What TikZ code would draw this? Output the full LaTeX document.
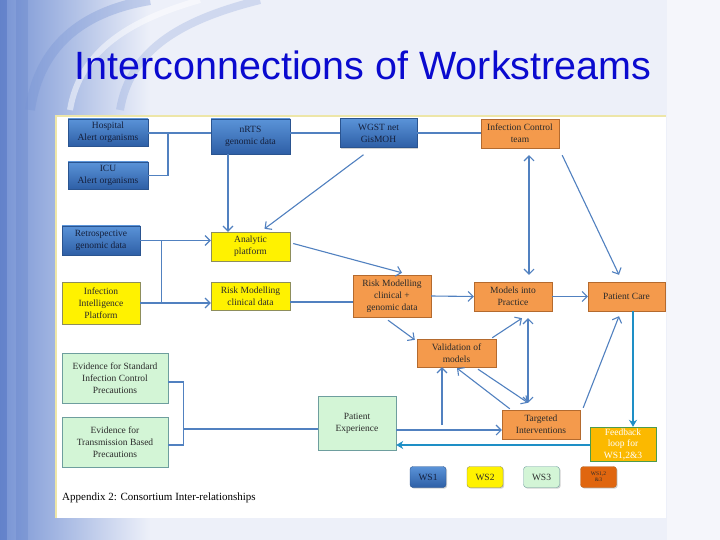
\documentclass[tikz,border=0pt]{standalone}
\usepackage{fontspec}
\setmainfont{Liberation Serif}
\newfontfamily\titlefont{Liberation Sans}
\usetikzlibrary{arrows.meta,shadows,calc}
\definecolor{bgc}{HTML}{EDF0F9}
\definecolor{decoA}{HTML}{7693D4}
\definecolor{decoB}{HTML}{4D6FC0}
\definecolor{titleblue}{HTML}{0A0ACF}
\definecolor{blueA}{HTML}{5A93D8}
\definecolor{blueB}{HTML}{2E5FA6}
\definecolor{blueD}{HTML}{2A5490}
\definecolor{bluetext}{HTML}{15203C}
\definecolor{yelB}{HTML}{8E8E5C}
\definecolor{oraC}{HTML}{F49A4C}
\definecolor{oraB}{HTML}{B46A2E}
\definecolor{grnC}{HTML}{D3F5D6}
\definecolor{grnB}{HTML}{6E9E9E}
\definecolor{fbC}{HTML}{FBB900}
\definecolor{fbB}{HTML}{4D9B4D}
\definecolor{ws4}{HTML}{E0660F}
\definecolor{conn}{HTML}{5181C0}
\definecolor{fbline}{HTML}{1E8FC6}
\definecolor{panelB}{HTML}{EDE6A8}
\definecolor{txt}{HTML}{2B2B2B}
\tikzset{
  wh/.style 2 args={minimum width=#1pt, minimum height=#2pt},
  box/.style={draw, align=center, inner sep=1pt, text=txt,
    font=\fontsize{9.5}{12}\selectfont,
    drop shadow={opacity=0.35, shadow xshift=1.2pt, shadow yshift=-1.2pt}},
  bluebox/.style={box, top color=blueA, bottom color=blueB, draw=blueD, text=bluetext},
  yelbox/.style={box, fill=yellow, draw=yelB},
  orabox/.style={box, fill=oraC, draw=oraB},
  grnbox/.style={box, fill=grnC, draw=grnB},
  line/.style={draw=conn, line width=1.1pt},
  arr/.style={line, -{Straight Barb[length=5pt,width=10pt]}},
  darr/.style={line, {Straight Barb[length=5pt,width=10pt]}-{Straight Barb[length=5pt,width=10pt]}},
  fbarr/.style={draw=fbline, line width=2.8pt, -{Stealth[length=7pt,width=8pt]}},
  legbox/.style={draw, rounded corners=3pt, wh={36}{21}, inner sep=0pt,
    font=\fontsize{9.5}{10}\selectfont, text=txt,
    drop shadow={opacity=0.35, shadow xshift=1.2pt, shadow yshift=-1.2pt}}
}
\begin{document}
\begin{tikzpicture}[x=1pt,y=-1pt]
\useasboundingbox (0,0) rectangle (720,540);
% background
\fill[bgc] (0,0) rectangle (720,540);
\shade[left color=decoA, right color=bgc] (0,0) rectangle (150,540);
\fill[decoB, opacity=0.45] (0,0) rectangle (7,540);
\fill[decoB, opacity=0.2] (16,0) rectangle (28,540);
\draw[decoA, opacity=0.35, line width=10pt] (30,110) .. controls (40,40) and (90,10) .. (150,0);
\draw[decoA, opacity=0.25, line width=8pt] (120,110) .. controls (130,50) and (180,20) .. (260,0);
\draw[white, opacity=0.5, line width=6pt] (70,110) .. controls (80,50) and (130,20) .. (200,0);
\fill[white, opacity=0.45] (667,0) rectangle (720,540);
% panel
\fill[white] (55,115) rectangle (666,518);
\draw[panelB, line width=1.5pt] (56,518) -- (56,116) -- (666,116);
% title
\node[font=\titlefont\fontsize{39.5}{39.5}\selectfont, text=titleblue, anchor=base, inner sep=0] (title) at (363,80) {Interconnections of Workstreams};
% nodes
\node[bluebox, wh={80}{27}] (hosp) at (108,132.5) {Hospital\\Alert organisms};
\node[bluebox, wh={80}{27}] (icu) at (108,175.5) {ICU\\Alert organisms};
\node[bluebox, wh={79}{35}] (nrts) at (250.5,136.5) {nRTS\\genomic data};
\node[bluebox, wh={77}{29}] (wgst) at (378.5,133) {WGST net\\GisMOH};
\node[orabox, wh={78}{29}] (ict) at (520,133.5) {Infection Control\\team};
\node[bluebox, wh={78}{29}] (retro) at (101,240.5) {Retrospective\\genomic data};
\node[yelbox, wh={79}{29}] (analytic) at (250.5,246.5) {Analytic\\platform};
\node[yelbox, wh={78}{42}] (iip) at (101,303) {Infection\\Intelligence\\Platform};
\node[yelbox, wh={79}{28}] (rmc) at (250.5,296) {Risk Modelling\\clinical data};
\node[orabox, wh={78}{42}] (rmcg) at (392,296) {Risk Modelling\\clinical +\\genomic data};
\node[orabox, wh={78}{29}] (mip) at (513,296.5) {Models into\\Practice};
\node[orabox, wh={77}{29}] (pcare) at (626.5,296.5) {Patient Care};
\node[orabox, wh={79}{28}] (valid) at (456.5,353) {Validation of\\models};
\node[grnbox, wh={78}{54}] (pexp) at (357,423) {Patient\\Experience};
\node[orabox, wh={78}{29}] (ti) at (541,424.5) {Targeted\\Interventions};
\node[box, fill=fbC, draw=fbB, text=white, wh={66}{34}, inner sep=0pt, font=\fontsize{9.5}{11.5}\selectfont] (fb) at (623,444) {Feedback\\loop for\\WS1,2\&3};
\node[grnbox, wh={106}{50}] (evs) at (115,378) {Evidence for Standard\\Infection Control\\Precautions};
\node[grnbox, wh={106}{50}] (evt) at (115,442) {Evidence for\\Transmission Based\\Precautions};
% legend
\node[legbox, top color=blueA, bottom color=blueB, draw=blueD, text=bluetext] (ws1) at (428,477) {WS1};
\node[legbox, fill=yellow, draw=yelB] (ws2) at (485,477) {WS2};
\node[legbox, fill=grnC, draw=grnB] (ws3) at (541.5,477) {WS3};
\node[legbox, fill=ws4, draw=oraB, font=\fontsize{5.5}{6}\selectfont, align=center] (ws4) at (598.5,477) {WS1,2\\\&3};
% caption
\node[anchor=base west, inner sep=0, font=\fontsize{11}{13}\selectfont] (cap) at (62,500) {Appendix 2: Consortium Inter-relationships};
% connectors
\coordinate (b1) at (168,133);
\draw[line] (hosp.east |- b1) -- (nrts.west |- b1);
\draw[line] (b1) |- (icu.east);
\draw[line] (nrts.east |- wgst.west) -- (wgst.west);
\draw[line] (wgst.east) -- (ict.west |- wgst.east);
\draw[arr] ([xshift=-22.5pt]nrts.south) -- ([xshift=-22.5pt]analytic.north);
\draw[arr] ([shift={(-15,7)}]wgst.south) -- ([shift={(14,-3)}]analytic.north);
\draw[arr] (retro.east) -- (analytic.west |- retro.east);
\draw[arr] (iip.east) -- (rmc.west |- iip.east);
\draw[line] ([xshift=21pt]retro.east) -- ([xshift=21pt]iip.east);
\draw[arr] ([shift={(3,-3)}]analytic.east) -- ([shift={(10,-2)}]rmcg.north);
\draw[line] ([yshift=-6pt]rmc.east) -- ([yshift=-6pt]rmcg.west);
\draw[arr] (rmcg.east) -- (mip.west);
\draw[arr] (mip.east) -- (pcare.west);
\draw[darr] ([shift={(9,7)}]ict.south) -- ([shift={(16,-7)}]mip.north);
\draw[arr] ([shift={(3,7)}]ict.south east) -- ([shift={(-7.5,-7)}]pcare.north);
\draw[arr] ([shift={(-4,3)}]rmcg.south) -- ([shift={(-2,1)}]valid.north west);
\draw[arr] ([shift={(-4,-1)}]valid.north east) -- ([shift={(9,7)}]mip.south);
\draw[darr] ([shift={(15,7)}]mip.south) -- ([shift={(-13,-7)}]ti.north);
\draw[arr] ([shift={(21.5,2)}]valid.south) -- ([shift={(-13,-7)}]ti.north);
\draw[arr] ([shift={(8,-1)}]ti.north west) -- ([shift={(0.5,1)}]valid.south);
\draw[arr] ([yshift=-7pt]pexp.east) -- ([yshift=-5.5pt]ti.west);
\coordinate (pj) at (442,425);
\draw[arr] (pj) -- (pj |- valid.south);
\draw[arr] ([shift={(3,-2)}]ti.north east) -- ([shift={(-7.5,5)}]pcare.south);
\draw[fbarr] ([xshift=6.5pt]pcare.south) -- ([xshift=10pt]fb.north);
\draw[fbarr] ([yshift=-1pt]fb.west) -- ([yshift=-22pt]pexp.east);
\draw[line] ([yshift=-4pt]evs.east) -- ++(15,0) |- ([yshift=-3pt]evt.east);
\coordinate (eb) at (183,429);
\draw[line] (eb) -- (pexp.west |- eb);
\end{tikzpicture}
\end{document}
